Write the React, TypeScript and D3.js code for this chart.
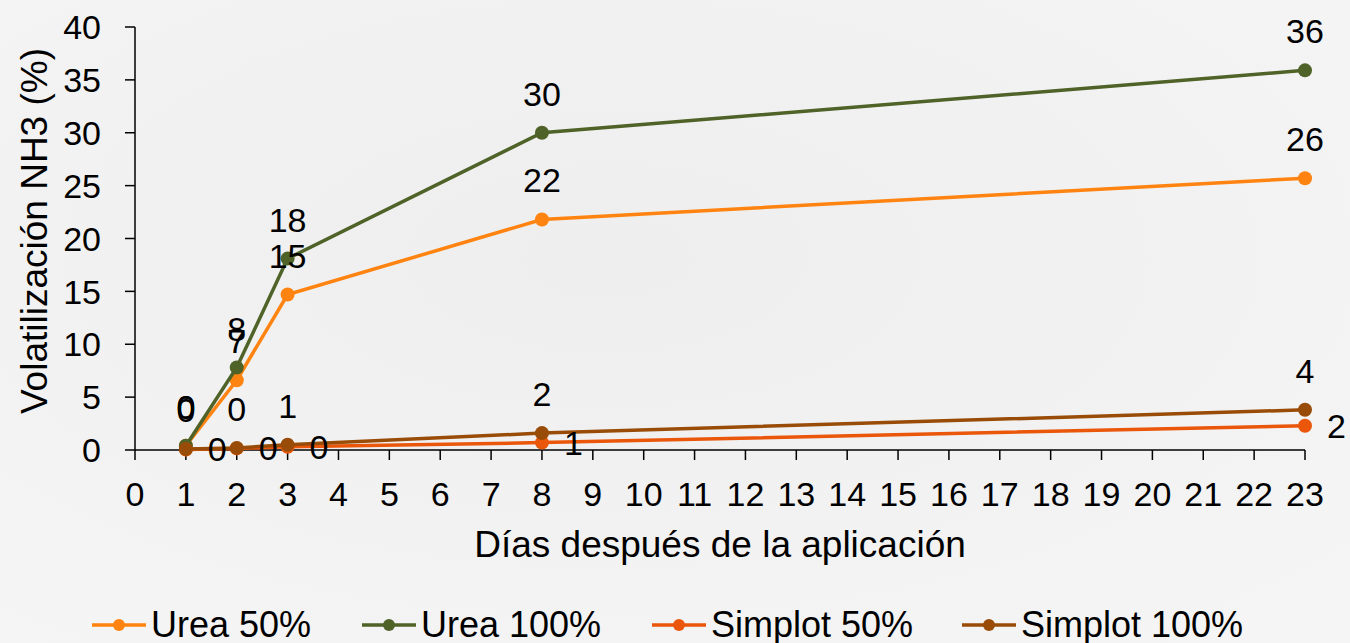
import React from "react";
import * as d3 from "d3";

const days = [1, 2, 3, 8, 23];
const urea50 = [0.4, 6.6, 14.7, 21.8, 25.7];
const urea100 = [0.4, 7.8, 18.1, 30.0, 35.9];
const simplot50 = [0.05, 0.15, 0.3, 0.7, 2.3];
const simplot100 = [0.1, 0.2, 0.5, 1.6, 3.8];
const seriesNames = ["Urea 50%", "Urea 100%", "Simplot 50%", "Simplot 100%"];
const xTicks = d3.range(0, 24);
const yTicks = [0, 5, 10, 15, 20, 25, 30, 35, 40];

const colors = ["#FF8310", "#4F6228", "#EA560A", "#994C07"];
const labelPos = ["above", "above", "right", "above"];

export default function App() {
  const W = 1350, H = 643;
  const x = d3.scaleLinear().domain([0, 23]).range([135, 1305]);
  const y = d3.scaleLinear().domain([0, 40]).range([450, 27]);
  const font = "'Liberation Sans', Arial, sans-serif";
  const series = [urea50, urea100, simplot50, simplot100];
  const line = d3.line<number>().x((_, i) => x(days[i])).y((v) => y(v));
  const legendX = [92, 362, 652, 962];
  const fs = 34;

  return (
    <svg width={W} height={H} style={{ position: "absolute", left: 0, top: 0 }} fontFamily={font}>
      <defs>
        <radialGradient id="bg" cx="45%" cy="40%" r="75%">
          <stop offset="0%" stopColor="#eeeeee" />
          <stop offset="60%" stopColor="#f2f2f2" />
          <stop offset="100%" stopColor="#f5f5f5" />
        </radialGradient>
      </defs>
      <rect width={W} height={H} fill="url(#bg)" />
      {/* y axis */}
      <line x1={135} x2={135} y1={y(40)} y2={y(0)} stroke="#000" strokeWidth={1.5} />
      {yTicks.map((t) => (
        <g key={"y" + t}>
          <line x1={125} x2={135} y1={y(t)} y2={y(t)} stroke="#000" strokeWidth={1.5} />
          <text x={101} y={y(t)} dy="0.36em" textAnchor="end" fontSize={fs}>{t}</text>
        </g>
      ))}
      {/* x axis */}
      <line x1={x(0)} x2={x(23)} y1={450} y2={450} stroke="#000" strokeWidth={1.5} />
      {xTicks.map((t) => (
        <g key={"x" + t}>
          <line x1={x(t)} x2={x(t)} y1={450} y2={460} stroke="#000" strokeWidth={1.5} />
          <text x={x(t)} y={506} textAnchor="middle" fontSize={fs}>{t}</text>
        </g>
      ))}
      <text x={720} y={557} textAnchor="middle" fontSize={37}>Días después de la aplicación</text>
      <text transform={`translate(47,231) rotate(-90)`} textAnchor="middle" fontSize={37}>Volatilización NH3 (%)</text>
      {/* series */}
      {series.map((vals, si) => (
        <g key={"s" + si}>
          <path d={line(vals) || ""} fill="none" stroke={colors[si]} strokeWidth={3.5} />
          {vals.map((v, i) => (
            <circle key={i} cx={x(days[i])} cy={y(v)} r={7} fill={colors[si]} />
          ))}
        </g>
      ))}
      {series.map((vals, si) =>
        vals.map((v, i) => {
          const px = x(days[i]);
          const py = y(v);
          const txt = d3.format(".0f")(v);
          if (labelPos[si] === "right") {
            return (
              <text key={"l" + si + i} x={px + 22} y={py + 12} fontSize={fs} textAnchor="start">{txt}</text>
            );
          }
          return (
            <text key={"l" + si + i} x={px} y={py - 27} fontSize={fs} textAnchor="middle">{txt}</text>
          );
        })
      )}
      {/* legend */}
      {seriesNames.map((n, i) => (
        <g key={"lg" + i}>
          <line x1={legendX[i]} x2={legendX[i] + 54} y1={625} y2={625} stroke={colors[i]} strokeWidth={3.5} />
          <circle cx={legendX[i] + 27} cy={625} r={6} fill={colors[i]} />
          <text x={legendX[i] + 59} y={637} fontSize={36}>{n}</text>
        </g>
      ))}
    </svg>
  );
}
